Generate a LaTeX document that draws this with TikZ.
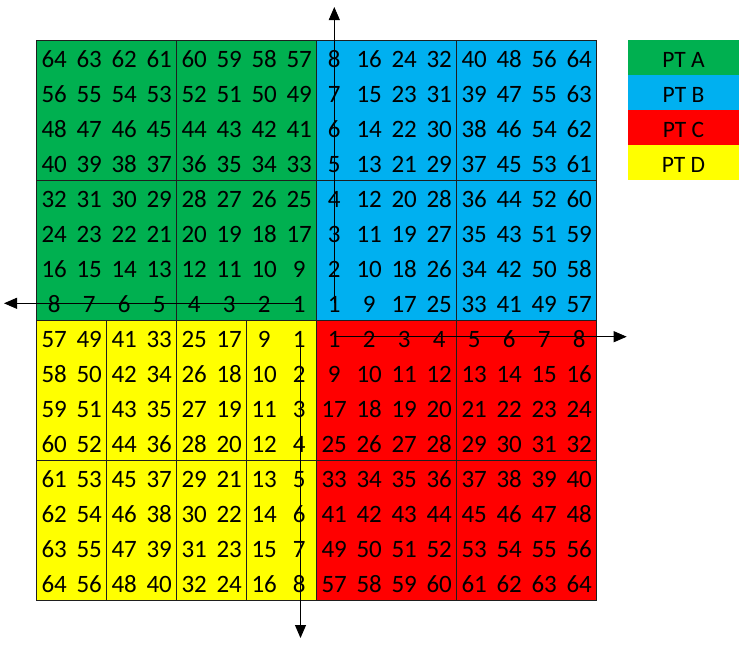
\documentclass[tikz,border=0pt]{standalone}
\usepackage{fontspec}
\setmainfont{Carlito}
\usetikzlibrary{arrows.meta}
\definecolor{ptA}{HTML}{00B050}
\definecolor{ptB}{HTML}{00B0F0}
\definecolor{ptC}{HTML}{FF0000}
\definecolor{ptD}{HTML}{FFFF00}
\begin{document}
\begin{tikzpicture}[x=1pt,y=-1pt,
  num/.style={anchor=base,inner sep=0pt,font=\fontsize{25}{30}\selectfont},
  gridline/.style={draw=black!88,line width=0.9pt},
  axis/.style={draw=black,line width=0.9pt,-{Triangle[length=13pt,width=11pt]}},
  legendbox/.style={rectangle,inner sep=0pt,minimum width=111pt,minimum height=35pt,
    text height=19.6pt,text depth=0pt,font=\fontsize{23.5}{28}\selectfont}
]
\useasboundingbox (0,0) rectangle (748,649);
% quadrant fills
\fill[ptA] (36.7,40) rectangle (316.7,320);
\fill[ptB] (316.7,40) rectangle (596.7,320);
\fill[ptC] (316.7,320) rectangle (596.7,600);
\fill[ptD] (36.7,320) rectangle (316.7,600);
% grid lines
\draw[gridline] (36.7,40) rectangle (596.7,600);
\foreach \gx in {176.7,316.7,456.7} \draw[gridline] (\gx,40) -- (\gx,600);
\foreach \gy in {180,320,460} \draw[gridline] (36.7,\gy) -- (596.7,\gy);
\foreach \gx in {106.7,246.7} \draw[gridline] (\gx,320) -- (\gx,600);
% numbers
\foreach \r in {0,...,7} {
  \foreach \c in {0,...,7} {
    \pgfmathtruncatemacro\va{64-8*\r-\c}
    \pgfmathtruncatemacro\vb{8*(\c+1)-\r}
    \pgfmathtruncatemacro\vc{8*\r+\c+1}
    \pgfmathtruncatemacro\vd{8*(7-\c)+\r+1}
    \node[num] (a-\r-\c) at ({54.2+35*\c},{67.5+35*\r}) {\va};
    \node[num] (b-\r-\c) at ({334.2+35*\c},{67.5+35*\r}) {\vb};
    \node[num] (c-\r-\c) at ({334.2+35*\c},{347.5+35*\r}) {\vc};
    \node[num] (d-\r-\c) at ({54.2+35*\c},{347.5+35*\r}) {\vd};
  }
}
% axes
\coordinate (oL) at (300,303.3);
\coordinate (endL) at (4,303.3);
\coordinate (oU) at (334.3,303.3);
\coordinate (endU) at (334.3,7);
\coordinate (oR) at (334.3,336.7);
\coordinate (endR) at (626.7,336.7);
\coordinate (oD) at (300.5,336.7);
\coordinate (endD) at (300.5,638);
\draw[axis] (oL) -- (endL);
\draw[axis] (oU) -- (endU);
\draw[axis] (oR) -- (endR);
\draw[axis] (oD) -- (endD);
% legend
\node[legendbox,fill=ptA] (legA) at (683.5,57.5) {PT A};
\node[legendbox,fill=ptB] (legB) at (683.5,92.5) {PT B};
\node[legendbox,fill=ptC] (legC) at (683.5,127.5) {PT C};
\node[legendbox,fill=ptD] (legD) at (683.5,162.5) {PT D};
\end{tikzpicture}
\end{document}
